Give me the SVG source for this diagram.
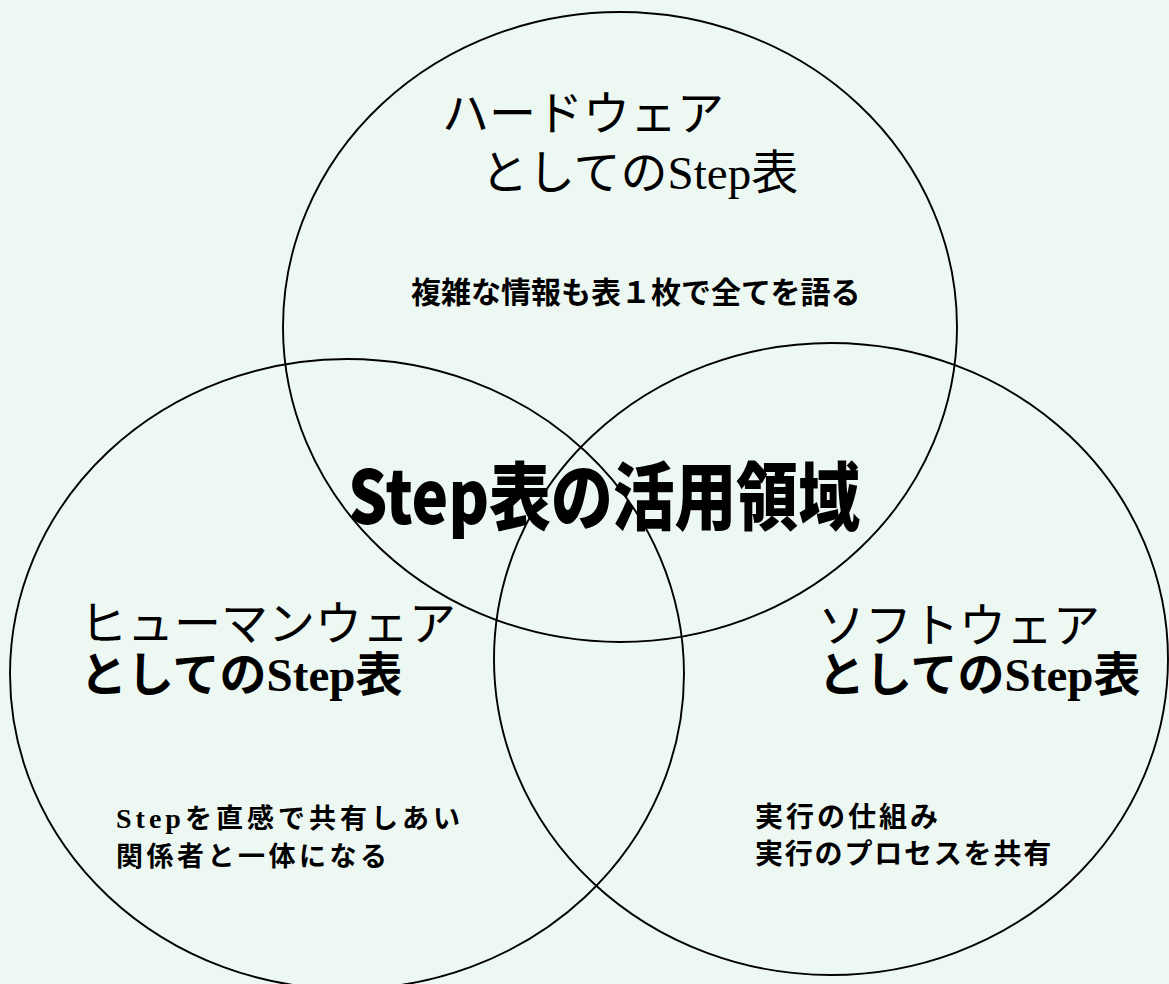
<svg xmlns="http://www.w3.org/2000/svg" width="1169" height="984" viewBox="0 0 1169 984">
  <style>
    .ring { fill: none; stroke: #000; stroke-width: 1.9; }
    .head { font-family: "Liberation Serif", "Noto Sans CJK JP", serif; font-size: 47px; fill: #000; }
    .bold { font-weight: bold; }
    .sub { font-family: "Noto Sans CJK JP", sans-serif; font-weight: bold; fill: #000; }
    .title { font-family: "Noto Sans CJK JP", sans-serif; font-weight: 900; font-size: 74px; fill: #000; }
  </style>
  <rect width="1169" height="984" fill="#eef8f2"/>
  <g id="connectors"/>
  <g id="hardware">
    <ellipse class="ring" cx="620" cy="327" rx="337" ry="315"/>
    <text class="head" x="442" y="130">ハードウェア</text>
    <text class="head" x="481" y="189">としてのStep表</text>
    <text class="sub" x="411" y="303" font-size="30">複雑な情報も表１枚で全てを語る</text>
  </g>
  <g id="humanware">
    <ellipse class="ring" cx="347" cy="674" rx="337" ry="315"/>
    <text class="head" x="80" y="640">ヒューマンウェア</text>
    <text class="head bold" x="80" y="691">としてのStep表</text>
    <text class="sub" x="116" y="828" font-size="27" letter-spacing="4"><tspan font-family="Liberation Serif" font-size="28">Step</tspan>を直感で共有しあい</text>
    <text class="sub" x="116" y="866" font-size="27" letter-spacing="3.5">関係者と一体になる</text>
  </g>
  <g id="software">
    <ellipse class="ring" cx="831" cy="659" rx="337" ry="316"/>
    <text class="head" x="818" y="642">ソフトウェア</text>
    <text class="head bold" x="818" y="691">としてのStep表</text>
    <text class="sub" x="755" y="827" font-size="28" letter-spacing="3">実行の仕組み</text>
    <text class="sub" x="755" y="864" font-size="28" letter-spacing="1.8">実行のプロセスを共有</text>
  </g>
  <g id="center">
    <text class="title" x="348" y="524" textLength="512" lengthAdjust="spacingAndGlyphs">Step表の活用領域</text>
  </g>
</svg>
